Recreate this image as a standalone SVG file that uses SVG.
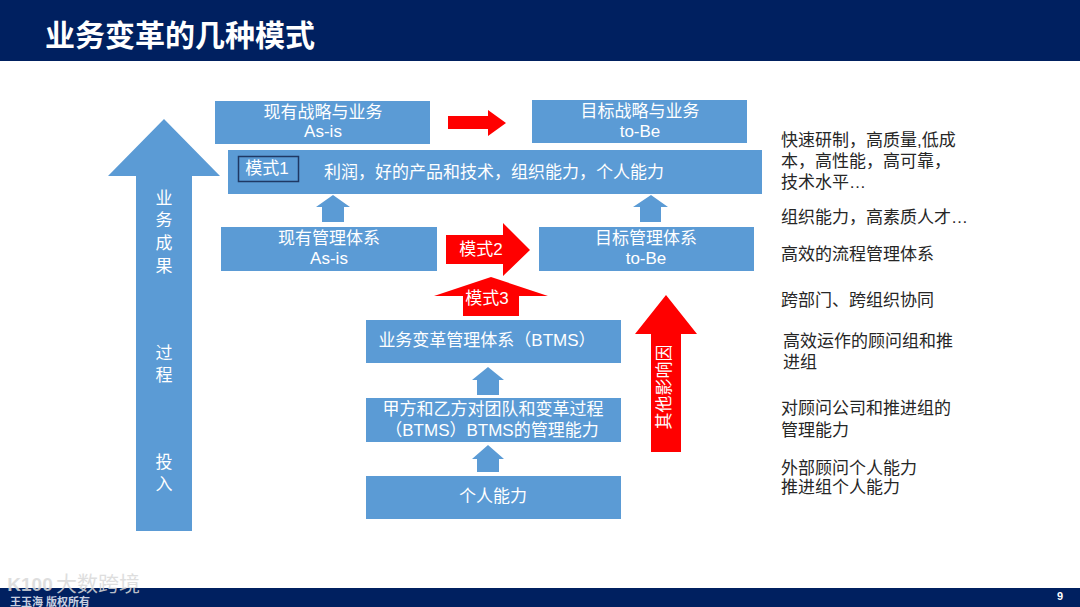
<svg xmlns="http://www.w3.org/2000/svg" width="1080" height="607" viewBox="0 0 1080 607">
<style>
text{font-family:"Liberation Sans","Noto Sans CJK SC",sans-serif;text-anchor:middle}
.b{fill:#5b9bd5}
.r{fill:#ff0000}
.w{fill:#fff;font-size:17px}
.d{fill:#262626;font-size:17px;text-anchor:start}
</style>
<rect width="1080" height="607" fill="#fff"/>
<g id="header"><rect width="1080" height="61" fill="#002060"/>
<text x="45" y="46" fill="#fff" font-size="30" font-weight="bold" style="text-anchor:start">业务变革的几种模式</text></g>
<g id="footer"><rect y="588" width="1080" height="19" fill="#002060"/>
<text x="1060" y="600" fill="#fff" font-size="11" font-weight="bold">9</text>
<text x="10" y="606" fill="#c8d0e0" font-size="11" font-weight="bold" style="text-anchor:start">王玉海 版权所有</text>
<text x="98" y="591" fill="#d9d9d9" font-size="21" opacity=".85">大数跨境</text>
<text x="30" y="591" fill="#d9d9d9" font-size="19" font-weight="bold" opacity=".85">K100</text></g>
<g id="connectors">
<path class="b" d="M136 531V176H108L164 119L220 176H192V531Z"/>
<text class="w" x="164" y="204">业</text><text class="w" x="164" y="226">务</text><text class="w" x="164" y="249">成</text><text class="w" x="164" y="272">果</text>
<text class="w" x="164" y="359">过</text><text class="w" x="164" y="381">程</text><text class="w" x="164" y="468">投</text><text class="w" x="164" y="490">入</text>
<path class="r" d="M448 116H488V110L506 123L488 136V129H448Z"/>
<path class="r" d="M446 235H503V223L530 250L503 276V264H446Z"/>
<path class="r" d="M463 316V296H434L491 277L548 296H519V316Z"/>
<path class="r" d="M651 452V334H635L666 295L697 334H681V452Z"/>
<path class="b" d="M322 222V207H316L333 195L350 207H344V222Z"/>
<path class="b" d="M640 222V207H633L651 195L668 207H661V222Z"/>
<path class="b" d="M477 395V380H472L488 367L504 380H499V395Z"/>
<path class="b" d="M477 472V459H472L488 445L504 459H499V472Z"/>
<text class="w" x="481" y="255">模式2</text>
<text class="w" x="487" y="304">模式3</text>
<text class="w" transform="translate(664 387) rotate(-90)" y="6">其他影响因</text>
</g>
<g id="n1"><rect class="b" x="215" y="101" width="215" height="43"/><text class="w" x="323" y="118">现有战略与业务</text><text class="w" x="323" y="137">As-is</text></g>
<g id="n2"><rect class="b" x="532" y="100" width="215" height="43"/><text class="w" x="640" y="117">目标战略与业务</text><text class="w" x="640" y="137">to-Be</text></g>
<g id="n3"><rect class="b" x="228" y="150" width="534" height="44"/>
<rect x="238.500" y="156.500" width="60" height="25" fill="none" stroke="#1f3864" stroke-width="1.500"/>
<text class="w" x="267" y="174">模式1</text>
<text class="w" x="494" y="178">利润，好的产品和技术，组织能力，个人能力</text></g>
<g id="n4"><rect class="b" x="221" y="227" width="216" height="44"/><text class="w" x="329" y="244">现有管理体系</text><text class="w" x="329" y="264">As-is</text></g>
<g id="n5"><rect class="b" x="539" y="227" width="215" height="44"/><text class="w" x="646" y="244">目标管理体系</text><text class="w" x="646" y="264">to-Be</text></g>
<g id="n6"><rect class="b" x="366" y="320" width="255" height="43"/><text class="w" x="487" y="346">业务变革管理体系（BTMS）</text></g>
<g id="n7"><rect class="b" x="366" y="398" width="255" height="44"/><text class="w" x="493" y="415">甲方和乙方对团队和变革过程</text><text class="w" x="492" y="436">（BTMS）BTMS的管理能力</text></g>
<g id="n8"><rect class="b" x="366" y="476" width="255" height="43"/><text class="w" x="493" y="502">个人能力</text></g>
<g id="notes">
<text class="d" x="781" y="146">快速研制，高质量,低成</text>
<text class="d" x="781" y="167">本，高性能，高可靠，</text>
<text class="d" x="781" y="188">技术水平…</text>
<text class="d" x="781" y="223">组织能力，高素质人才…</text>
<text class="d" x="781" y="260">高效的流程管理体系</text>
<text class="d" x="781" y="306">跨部门、跨组织协同</text>
<text class="d" x="783" y="347">高效运作的顾问组和推</text>
<text class="d" x="783" y="368">进组</text>
<text class="d" x="781" y="414">对顾问公司和推进组的</text>
<text class="d" x="781" y="436">管理能力</text>
<text class="d" x="781" y="474">外部顾问个人能力</text>
<text class="d" x="781" y="493">推进组个人能力</text>
</g>
</svg>
